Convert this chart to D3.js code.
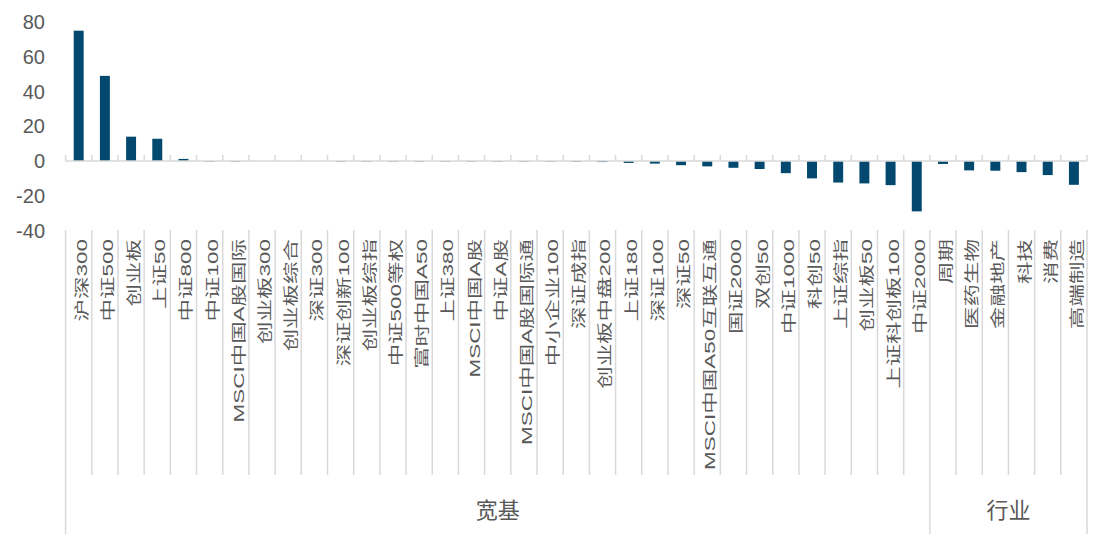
<!DOCTYPE html>
<html>
<head>
<meta charset="utf-8">
<script src="https://cdn.jsdelivr.net/npm/d3@7"></script>
<style>
  html, body { margin: 0; padding: 0; background: #fff; }
  svg { display: block; }
  text { font-family: "Liberation Sans", Arial, "Noto Sans CJK SC", sans-serif; }
</style>
</head>
<body>
<svg id="chart" width="1104" height="534"></svg>
<script>
// ---- data ----
const categories = [
  "沪深300","中证500","创业板","上证50","中证800","中证100","MSCI中国A股国际","创业板300","创业板综合","深证300",
  "深证创新100","创业板综指","中证500等权","富时中国A50","上证380","MSCI中国A股","中证A股","MSCI中国A股国际通","中小企业100","深证成指",
  "创业板中盘200","上证180","深证100","深证50","MSCI中国A50互联互通","国证2000","双创50","中证1000","科创50","上证综指",
  "创业板50","上证科创板100","中证2000",
  "周期","医药生物","金融地产","科技","消费","高端制造"
];
const values = [
  75.0, 49.0, 14.0, 12.8, 1.2, -0.3, -0.3, 0, 0, 0,
  -0.3, -0.3, -0.3, -0.3, -0.3, -0.3, -0.3, -0.3, -0.3, -0.4,
  -0.6, -1.1, -1.5, -2.4, -3.1, -3.9, -4.6, -7.0, -10.0, -12.4,
  -12.9, -13.9, -29.0,
  -1.7, -5.4, -5.6, -6.4, -8.1, -13.7
];
const groupNames = ["宽基", "行业"];
const groupSizes = [33, 6];
const yTicks = [-40, -20, 0, 20, 40, 60, 80];

// ---- layout ----
const svg = d3.select("#chart");
const x0 = 65.6, x1 = 1087;
const x = d3.scaleBand().domain(categories).range([x0, x1]).paddingInner(0.62).paddingOuter(0.31);
const y = d3.scaleLinear().domain([-40, 80]).range([230.5, 22]);
const step = x.step();
const gridColor = "#d9d9d9";
const textColor = "#595959";
const barColor = "#03496f";

// y labels
svg.append("g").selectAll("text").data(yTicks).join("text")
  .attr("x", 45).attr("y", d => y(d))
  .attr("text-anchor", "end").attr("dominant-baseline", "central")
  .attr("font-size", 20).attr("fill", textColor)
  .text(d => d);

// bars
svg.append("g").selectAll("rect").data(categories).join("rect")
  .attr("x", d => x(d))
  .attr("width", x.bandwidth())
  .attr("y", (d, i) => Math.min(y(values[i]), y(0)))
  .attr("height", (d, i) => Math.abs(y(values[i]) - y(0)))
  .attr("fill", barColor);

// zero axis line and ticks
const y0 = y(0);
svg.append("line").attr("x1", x0).attr("x2", x1).attr("y1", y0).attr("y2", y0)
  .attr("stroke", gridColor).attr("stroke-width", 1.5);
const boundaries = d3.range(categories.length + 1).map(i => x0 + i * step);
svg.append("g").selectAll("line").data(boundaries).join("line")
  .attr("x1", d => d).attr("x2", d => d).attr("y1", y0 - 6).attr("y2", y0)
  .attr("stroke", gridColor).attr("stroke-width", 1.5);

// group boundaries
const groupEdges = [0];
groupSizes.forEach(s => groupEdges.push(groupEdges[groupEdges.length - 1] + s));
const edgeSet = new Set(groupEdges);

// category dividers
svg.append("g").selectAll("line").data(boundaries).join("line")
  .attr("x1", d => d).attr("x2", d => d)
  .attr("y1", 230)
  .attr("y2", (d, i) => edgeSet.has(i) ? 534 : 475)
  .attr("stroke", gridColor).attr("stroke-width", 1.5);

// category labels
svg.append("g").selectAll("text").data(categories).join("text")
  .attr("transform", d => `translate(${x(d) + x.bandwidth() / 2 + 8},239) rotate(-90) scale(1.55,1)`)
  .attr("text-anchor", "end")
  .attr("font-size", 14.5).attr("fill", textColor)
  .text(d => d);

// group labels
svg.append("g").selectAll("text").data(groupNames).join("text")
  .attr("x", (d, i) => x0 + (groupEdges[i] + groupEdges[i + 1]) / 2 * step)
  .attr("y", 510)
  .attr("text-anchor", "middle").attr("dominant-baseline", "central")
  .attr("font-size", 22).attr("fill", textColor)
  .text(d => d);
</script>
</body>
</html>
